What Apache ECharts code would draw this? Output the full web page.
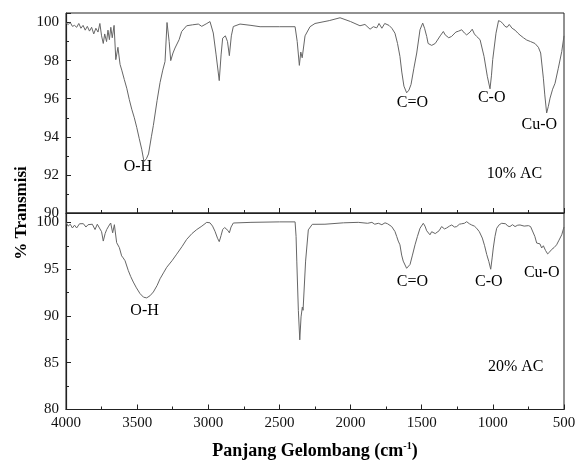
<!DOCTYPE html>
<html>
<head>
<meta charset="utf-8">
<script src="https://cdn.jsdelivr.net/npm/echarts@6/dist/echarts.min.js"></script>
<style>
  html, body { margin: 0; padding: 0; background: #fff; }
  #ftir { width: 582px; height: 461px; }
</style>
</head>
<body>
<div id="ftir"></div>
<script type="text/javascript">
// spektrum [bilangan gelombang, % transmisi]
var spectrum10 = [
  [4000, 99.98], [3985, 99.9], [3970, 100.0], [3955, 99.8], [3940, 99.85], [3925, 99.75], [3910, 99.95],
  [3895, 99.7], [3880, 99.85], [3865, 99.6], [3850, 99.8], [3835, 99.55], [3820, 99.75], [3805, 99.4],
  [3790, 99.7], [3775, 99.5], [3762, 99.95], [3750, 99.3], [3738, 98.9], [3728, 99.4], [3715, 99.0],
  [3705, 99.6], [3695, 99.1], [3685, 99.75], [3675, 99.2], [3662, 99.85], [3650, 98.05], [3635, 98.7],
  [3620, 97.8], [3608, 97.5], [3590, 97.0], [3573, 96.55], [3555, 95.95], [3538, 95.45], [3520, 95.0],
  [3503, 94.5], [3485, 93.9], [3468, 93.35], [3452, 92.7], [3435, 92.85], [3420, 93.1], [3400, 94.0],
  [3386, 94.6], [3360, 95.9], [3339, 96.85], [3320, 97.5], [3304, 97.95], [3290, 100.0], [3275, 99.0],
  [3264, 98.0], [3248, 98.4], [3234, 98.66], [3220, 98.7], [3205, 99.1], [3187, 99.53], [3152, 99.83],
  [3110, 99.88], [3070, 99.92], [3046, 99.8], [3010, 99.95], [2988, 100.05], [2965, 99.45], [2945, 98.3],
  [2923, 96.95], [2910, 98.3], [2899, 99.18], [2880, 99.3], [2865, 99.0], [2852, 98.26], [2838, 99.3],
  [2824, 99.79], [2777, 99.92], [2700, 99.85], [2636, 99.78], [2500, 99.78], [2390, 99.78], [2375, 99.0],
  [2360, 97.75], [2350, 98.45], [2340, 98.15], [2320, 99.3], [2285, 99.78], [2250, 99.95], [2150, 100.1],
  [2074, 100.25], [2000, 100.05], [1934, 99.83], [1899, 99.9], [1863, 99.65], [1840, 99.78], [1816, 99.72],
  [1800, 99.95], [1780, 99.7], [1760, 99.95], [1746, 99.97], [1730, 99.85], [1710, 99.7], [1688, 99.44],
  [1670, 98.9], [1653, 98.22], [1640, 97.4], [1625, 96.66], [1606, 96.31], [1590, 96.45], [1575, 96.75],
  [1555, 97.6], [1535, 98.4], [1512, 99.62], [1493, 99.97], [1480, 99.7], [1465, 99.27], [1455, 98.9],
  [1442, 99.0], [1430, 98.8], [1419, 98.75], [1405, 98.9], [1395, 99.0], [1370, 99.3], [1348, 99.53],
  [1335, 99.35], [1325, 99.38], [1310, 99.2], [1290, 99.27], [1260, 99.5], [1240, 99.55], [1219, 99.62],
  [1200, 99.45], [1184, 99.35], [1160, 99.5], [1145, 99.65], [1130, 99.4], [1114, 99.27], [1090, 99.1],
  [1062, 98.22], [1039, 97.18], [1020, 96.52], [1010, 97.2], [1001, 98.05], [978, 99.44], [960, 100.1],
  [945, 100.05], [930, 99.95], [915, 99.8], [900, 99.75], [885, 99.9], [865, 99.7], [844, 99.6],
  [825, 99.45], [809, 99.34], [785, 99.2], [762, 99.08], [735, 99.0], [704, 98.9], [680, 98.7],
  [664, 98.4], [645, 97.08], [635, 96.2], [622, 95.25], [610, 95.6], [598, 96.03], [580, 96.5],
  [563, 96.81], [540, 97.6], [516, 98.47], [500, 99.3]
];
var spectrum20 = [
  [4000, 100.0], [3985, 99.6], [3970, 99.8], [3955, 99.4], [3940, 99.7], [3925, 99.4], [3905, 99.85],
  [3878, 99.86], [3860, 99.5], [3845, 99.75], [3831, 99.58], [3815, 99.8], [3796, 99.23], [3780, 99.8],
  [3766, 100.0], [3750, 99.0], [3738, 98.0], [3725, 98.8], [3714, 99.23], [3700, 99.6], [3686, 99.93],
  [3672, 98.88], [3660, 99.75], [3644, 97.83], [3625, 97.3], [3609, 96.42], [3598, 96.2], [3585, 95.9],
  [3562, 94.84], [3545, 94.2], [3527, 93.62], [3505, 93.0], [3480, 92.39], [3455, 92.0], [3433, 91.93],
  [3410, 92.15], [3386, 92.56], [3360, 93.25], [3339, 93.97], [3315, 94.6], [3292, 95.2], [3255, 95.9],
  [3222, 96.6], [3185, 97.4], [3152, 98.18], [3115, 98.8], [3081, 99.23], [3045, 99.6], [3011, 100.0],
  [2988, 99.95], [2970, 99.6], [2953, 99.05], [2935, 98.3], [2923, 97.94], [2910, 98.6], [2899, 99.23],
  [2885, 99.45], [2871, 99.4], [2860, 99.1], [2852, 98.88], [2840, 99.5], [2824, 99.93], [2700, 100.0],
  [2500, 100.05], [2390, 100.05], [2383, 98.5], [2378, 95.86], [2367, 90.6], [2357, 87.44], [2348, 89.9],
  [2339, 90.95], [2334, 90.6], [2316, 95.86], [2297, 99.2], [2269, 99.79], [2180, 99.8], [2050, 99.95],
  [1946, 100.0], [1880, 99.9], [1850, 100.0], [1830, 99.8], [1805, 99.9], [1780, 99.75], [1758, 99.95],
  [1740, 99.85], [1711, 99.55], [1688, 99.02], [1676, 98.5], [1665, 98.0], [1653, 97.6], [1641, 96.5],
  [1630, 95.86], [1606, 95.09], [1582, 95.5], [1565, 96.5], [1547, 97.6], [1530, 98.5], [1512, 99.37],
  [1489, 99.9], [1477, 99.6], [1465, 99.1], [1455, 99.0], [1442, 98.67], [1430, 99.0], [1419, 99.15],
  [1405, 98.8], [1395, 98.67], [1378, 99.1], [1360, 99.55], [1340, 99.3], [1325, 99.4], [1305, 99.6],
  [1289, 99.72], [1270, 99.5], [1254, 99.55], [1235, 99.8], [1219, 99.85], [1200, 99.9], [1184, 100.07],
  [1165, 99.85], [1149, 99.72], [1130, 99.6], [1114, 99.37], [1095, 99.0], [1074, 98.32], [1058, 97.5],
  [1043, 96.56], [1028, 95.8], [1015, 94.99], [1005, 96.2], [997, 97.26], [985, 98.5], [973, 99.37],
  [955, 99.75], [938, 99.9], [910, 99.85], [895, 99.6], [880, 99.55], [862, 99.75], [844, 99.55],
  [825, 99.7], [809, 99.72], [780, 99.6], [750, 99.65], [735, 99.55], [723, 99.37], [705, 98.5],
  [692, 97.79], [680, 97.9], [669, 97.7], [657, 97.26], [645, 97.5], [630, 97.0], [615, 96.63],
  [600, 96.85], [587, 97.1], [570, 97.3], [552, 97.6], [535, 98.1], [516, 98.67], [500, 99.5]
];
// label puncak [bilangan gelombang, % transmisi, teks]
var labels10 = [[3495, 92.4, 'O-H'], [1565, 95.8, 'C=O'], [1008, 96.03, 'C-O'], [674, 94.61, 'Cu-O'], [848, 92.05, '10% AC']];
var labels20 = [[3448, 90.52, 'O-H'], [1565, 93.67, 'C=O'], [1029, 93.67, 'C-O'], [657, 94.63, 'Cu-O'], [839, 84.57, '20% AC']];

var font = 'Liberation Serif';
var axisColor = '#222';

function xAxisOf(gridIndex, showLabel) {
  return {
    type: 'value', gridIndex: gridIndex, inverse: true,
    min: 500, max: 4000, interval: 500,
    axisLine: { show: true, lineStyle: { color: axisColor, width: 1.2 } },
    axisTick: { show: true, inside: true, length: 5, lineStyle: { color: axisColor } },
    minorTick: { show: true, splitNumber: 2, length: 3, lineStyle: { color: axisColor } },
    splitLine: { show: false },
    axisLabel: { show: showLabel, color: '#111', fontFamily: font, fontSize: 15, margin: 6,
      formatter: function (v) { return String(v); } }
  };
}
function yAxisOf(gridIndex, min, max, interval) {
  return {
    type: 'value', gridIndex: gridIndex, min: min, max: max, interval: interval,
    axisLine: { show: true, lineStyle: { color: axisColor, width: 1.2 } },
    axisTick: { show: true, inside: true, length: 5, lineStyle: { color: axisColor } },
    minorTick: { show: true, splitNumber: 2, length: 3, lineStyle: { color: axisColor } },
    splitLine: { show: false },
    axisLabel: { color: '#111', fontFamily: font, fontSize: 15, margin: 7, showMaxLabel: false }
  };
}
function labelSeries(idx, list) {
  return {
    type: 'scatter', xAxisIndex: idx, yAxisIndex: idx, symbolSize: 0, silent: true,
    itemStyle: { opacity: 1 },
    label: { show: true, position: 'inside', formatter: '{b}', color: '#000', fontFamily: font, fontSize: 16 },
    data: list.map(function (d) { return { name: d[2], value: [d[0], d[1]] }; })
  };
}

var chart = echarts.init(document.getElementById('ftir'));
var xBottom = xAxisOf(1, true);
xBottom.name = '{a|Panjang Gelombang (cm}{s|-1}{a|)}';
xBottom.nameLocation = 'middle';
xBottom.nameGap = 32;
xBottom.nameTextStyle = {
  rich: {
    a: { fontFamily: font, fontWeight: 'bold', fontSize: 18, color: '#000' },
    s: { fontFamily: font, fontWeight: 'bold', fontSize: 10, color: '#000', padding: [0, 0, 9, 0] }
  }
};

chart.setOption({
  backgroundColor: '#fff',
  animation: false,
  grid: [
    { left: 66, top: 13, width: 498, height: 200, show: true, borderColor: axisColor, borderWidth: 1 },
    { left: 66, top: 213, width: 498, height: 200, show: true, borderColor: axisColor, borderWidth: 1 }
  ],
  xAxis: [xAxisOf(0, false), xBottom],
  yAxis: [yAxisOf(0, 90, 100.5, 2), yAxisOf(1, 80, 101, 5)],
  graphic: [{
    type: 'text', rotation: Math.PI / 2,
    x: 22, y: 213,
    style: { text: '% Transmisi', fontFamily: font, fontWeight: 'bold', fontSize: 17, fill: '#000', align: 'center', verticalAlign: 'middle' }
  }],
  series: [
    { type: 'line', xAxisIndex: 0, yAxisIndex: 0, data: spectrum10, showSymbol: false, silent: true,
      lineStyle: { color: '#666', width: 1 } },
    { type: 'line', xAxisIndex: 1, yAxisIndex: 1, data: spectrum20, showSymbol: false, silent: true,
      lineStyle: { color: '#666', width: 1 } },
    labelSeries(0, labels10),
    labelSeries(1, labels20)
  ]
});
</script>
</body>
</html>
